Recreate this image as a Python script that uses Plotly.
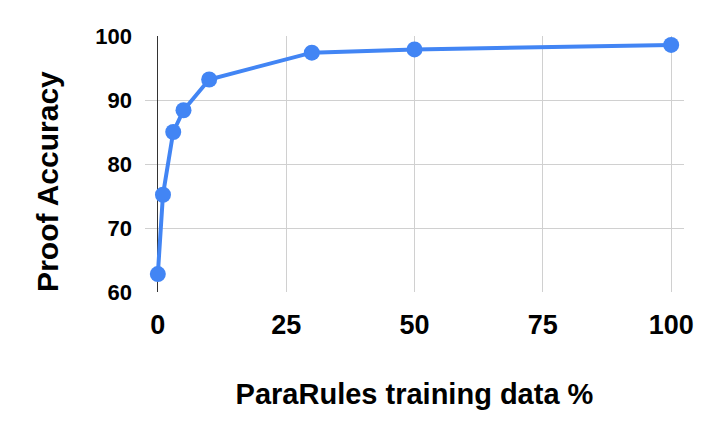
import plotly.graph_objects as go

# ParaRules training data % vs proof accuracy
train_pct = [0, 1, 3, 5, 10, 30, 50, 100]
proof_acc = [62.8, 75.2, 85.0, 88.4, 93.2, 97.4, 97.9, 98.6]

x_ticks = [0, 25, 50, 75, 100]
y_ticks = [60, 70, 80, 90, 100]

BLUE = "#4285F4"
FONT = "Liberation Sans, Arial, sans-serif"

fig = go.Figure(go.Scatter(
    x=train_pct, y=proof_acc,
    mode="lines+markers",
    line=dict(color=BLUE, width=4),
    marker=dict(color=BLUE, size=16),
    showlegend=False,
))

# the page body adds an 8px offset, margins are compensated for it
fig.update_layout(
    width=706, height=437,
    margin=dict(l=137, r=30, t=28, b=153),
    paper_bgcolor="white",
    plot_bgcolor="white",
    font=dict(family=FONT, color="#000000"),
    xaxis=dict(
        range=[-2.5, 102.5],
        tickvals=x_ticks,
        tickfont=dict(size=27, family=FONT, weight="bold"),
        gridcolor="#d0d0d0",
        zeroline=True, zerolinecolor="#333333", zerolinewidth=1,
        showline=False,
        ticklabelstandoff=14,
        title=dict(text="<b>ParaRules training data %</b>",
                   font=dict(size=29, family=FONT), standoff=44),
    ),
    yaxis=dict(
        range=[60, 100],
        tickvals=y_ticks,
        tickfont=dict(size=22, family=FONT, weight="bold"),
        gridcolor="#d0d0d0",
        zeroline=False,
        showline=False,
        ticklabelstandoff=12,
    ),
)

# y title sits a bit below the plot centre in the original, so use an annotation
fig.add_annotation(
    text="<b>Proof Accuracy</b>",
    xref="paper", yref="paper", x=-0.18, y=0.434,
    xanchor="center", yanchor="middle",
    textangle=-90, showarrow=False,
    font=dict(size=30, family=FONT, color="#000000"),
)

fig.write_html("out.html")
